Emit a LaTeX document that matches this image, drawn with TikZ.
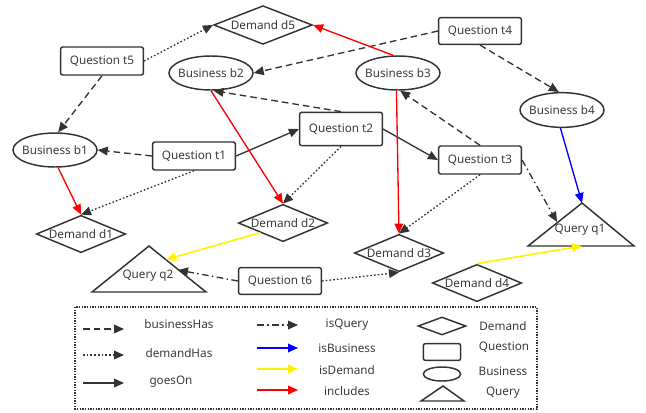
\documentclass[tikz,border=0pt]{standalone}
\usepackage{fontspec}
\setmainfont{Noto Sans}
\usetikzlibrary{shapes.geometric,arrows.meta}
\definecolor{ink}{HTML}{333333}
\definecolor{txt}{HTML}{3A3A3A}
\newcommand{\zb}[1]{\makebox[0pt]{#1}}
\begin{document}
\begin{tikzpicture}[x=0.75pt,y=-0.75pt,
  font=\fontsize{8.8}{10}\selectfont,
  base/.style={draw=ink, line width=1.1pt, inner sep=0pt, text=txt},
  qbox/.style={base, rectangle, rounded corners=1.5pt, minimum width=62pt, minimum height=21pt},
  bell/.style={base, ellipse, minimum width=63pt, minimum height=25.5pt},
  dmd/.style={base, diamond, minimum width=67pt, minimum height=28pt},
  tri/.style={draw=ink, line width=1.1pt, line join=miter},
  lbl/.style={inner sep=0pt, text=txt},
  edge/.style={draw=ink, line width=1pt, -{Triangle[length=7.5pt,width=6.5pt]}},
  bh/.style={edge, dash pattern=on 5pt off 3pt},
  dh/.style={edge, dash pattern=on 1.2pt off 1.6pt},
  go/.style={edge},
  iq/.style={edge, dash pattern=on 5pt off 2.5pt on 1.2pt off 2.5pt},
  ib/.style={edge, draw=blue},
  idm/.style={edge, draw=yellow, line width=1.2pt},
  inc/.style={edge, draw=red}]
\useasboundingbox (0,0) rectangle (646,412);

% nodes
\node[dmd, minimum width=74pt, minimum height=29pt] (d5) at (263,25) {\zb{Demand d5}};
\node[qbox] (t5) at (102,61) {Question t5};
\node[bell] (b2) at (211,73) {\zb{Business b2}};
\node[bell] (b3) at (398,73) {\zb{Business b3}};
\node[qbox, minimum height=20pt] (t4) at (480,31) {Question t4};
\node[bell, minimum height=26pt] (b4) at (562,110) {\zb{Business b4}};
\node[bell] (b1) at (55,150) {\zb{Business b1}};
\node[qbox] (t1) at (194,156) {Question t1};
\node[qbox, minimum height=25pt] (t2) at (341,129) {Question t2};
\node[qbox] (t3) at (480,160) {Question t3};
\node[dmd] (d2) at (283,223) {\zb{Demand d2}};
\node[dmd] (d1) at (81,234) {\zb{Demand d1}};
\node[dmd] (d3) at (399,253) {\zb{Demand d3}};
\node[dmd] (d4) at (477,283) {\zb{Demand d4}};
\node[qbox, minimum height=20pt] (t6) at (280,281) {Question t6};

% triangles (queries)
\draw[tri] (582,203) -- (634,246) -- (528,246) -- cycle;
\node[lbl] (q1) at (580,230) {Query q1};
\coordinate (q1top) at (582,203);
\coordinate (q1left) at (557,222);
\coordinate (q1base) at (582,246);
\draw[tri] (149,246) -- (206,292) -- (92,292) -- cycle;
\node[lbl] (q2) at (148,276) {Query q2};
\coordinate (q2r1) at (166,259.5);
\coordinate (q2r2) at (178,270);

% edges
\draw[dh] (t5.east) -- (d5.west);
\draw[bh] (t5.south) -- (b1.80);
\draw[bh] (t4.west) -- (b2.east);
\draw[bh] (t4.south) -- (b4.100);
\draw[inc] (b3.105) -- (d5.east);
\draw[bh] (t2.north) -- (b2.-82);
\draw[bh] (t1.west) -- (b1.east);
\draw[go] (t1.east) -- (t2.west);
\draw[dh] (t1.south) -- (d1.north);
\draw[inc] (b1.-80) -- (d1.north);
\draw[inc] (b2.south) -- (d2.north);
\draw[dh] (t2.south) -- (d2.north);
\draw[go] (t2.east) -- (t3.west);
\draw[bh] (t3.north) -- (b3.-83);
\draw[inc] (b3.-95) -- (d3.north);
\draw[dh] (t3.south) -- (d3.north);
\draw[iq] (t3.east) -- (q1left);
\draw[ib] (b4.-95) -- (q1top);
\draw[idm] (d4.north) -- (q1base);
\draw[idm] (d2.south west) -- (q2r1);
\draw[iq] (t6.west) -- (q2r2);
\draw[dh] (t6.east) -- (d3.south);

% legend
\draw[ink, line width=0.9pt, dash pattern=on 1pt off 1pt] (75,307) rectangle (537,409);
\coordinate (la1) at (83,329);  \coordinate (lb1) at (124,329);
\coordinate (la2) at (83,355);  \coordinate (lb2) at (124,355);
\coordinate (la3) at (83,383);  \coordinate (lb3) at (124,383);
\coordinate (ra1) at (257,325); \coordinate (rb1) at (298,325);
\coordinate (ra2) at (257,348); \coordinate (rb2) at (298,348);
\coordinate (ra3) at (257,369); \coordinate (rb3) at (298,369);
\coordinate (ra4) at (257,390); \coordinate (rb4) at (298,390);
\draw[bh] (la1) -- (lb1);
\draw[dh] (la2) -- (lb2);
\draw[go] (la3) -- (lb3);
\draw[iq] (ra1) -- (rb1);
\draw[ib] (ra2) -- (rb2);
\draw[idm] (ra3) -- (rb3);
\draw[inc] (ra4) -- (rb4);
\node[lbl] (lt1) at (179,324) {businessHas};
\node[lbl] (lt2) at (179,353) {demandHas};
\node[lbl] (lt3) at (171,382) {goesOn};
\node[lbl] (lt4) at (347,325) {isQuery};
\node[lbl] (lt5) at (347,348) {isBusiness};
\node[lbl] (lt6) at (347,370) {isDemand};
\node[lbl] (lt7) at (347,391) {includes};

\node[base, diamond, minimum width=36pt, minimum height=13.5pt] (sd) at (442,326) {};
\node[base, rectangle, rounded corners=1.5pt, minimum width=28pt, minimum height=12.5pt] (sq) at (442,352) {};
\node[base, ellipse, minimum width=28pt, minimum height=10.5pt] (sb) at (442,374) {};
\draw[tri] (443,386) -- (464,401) -- (421,401) -- cycle;
\node[lbl] (st1) at (503,326) {Demand};
\node[lbl] (st2) at (504,347) {Question};
\node[lbl] (st3) at (503,371) {Business};
\node[lbl] (st4) at (503,393) {Query};
\end{tikzpicture}
\end{document}
